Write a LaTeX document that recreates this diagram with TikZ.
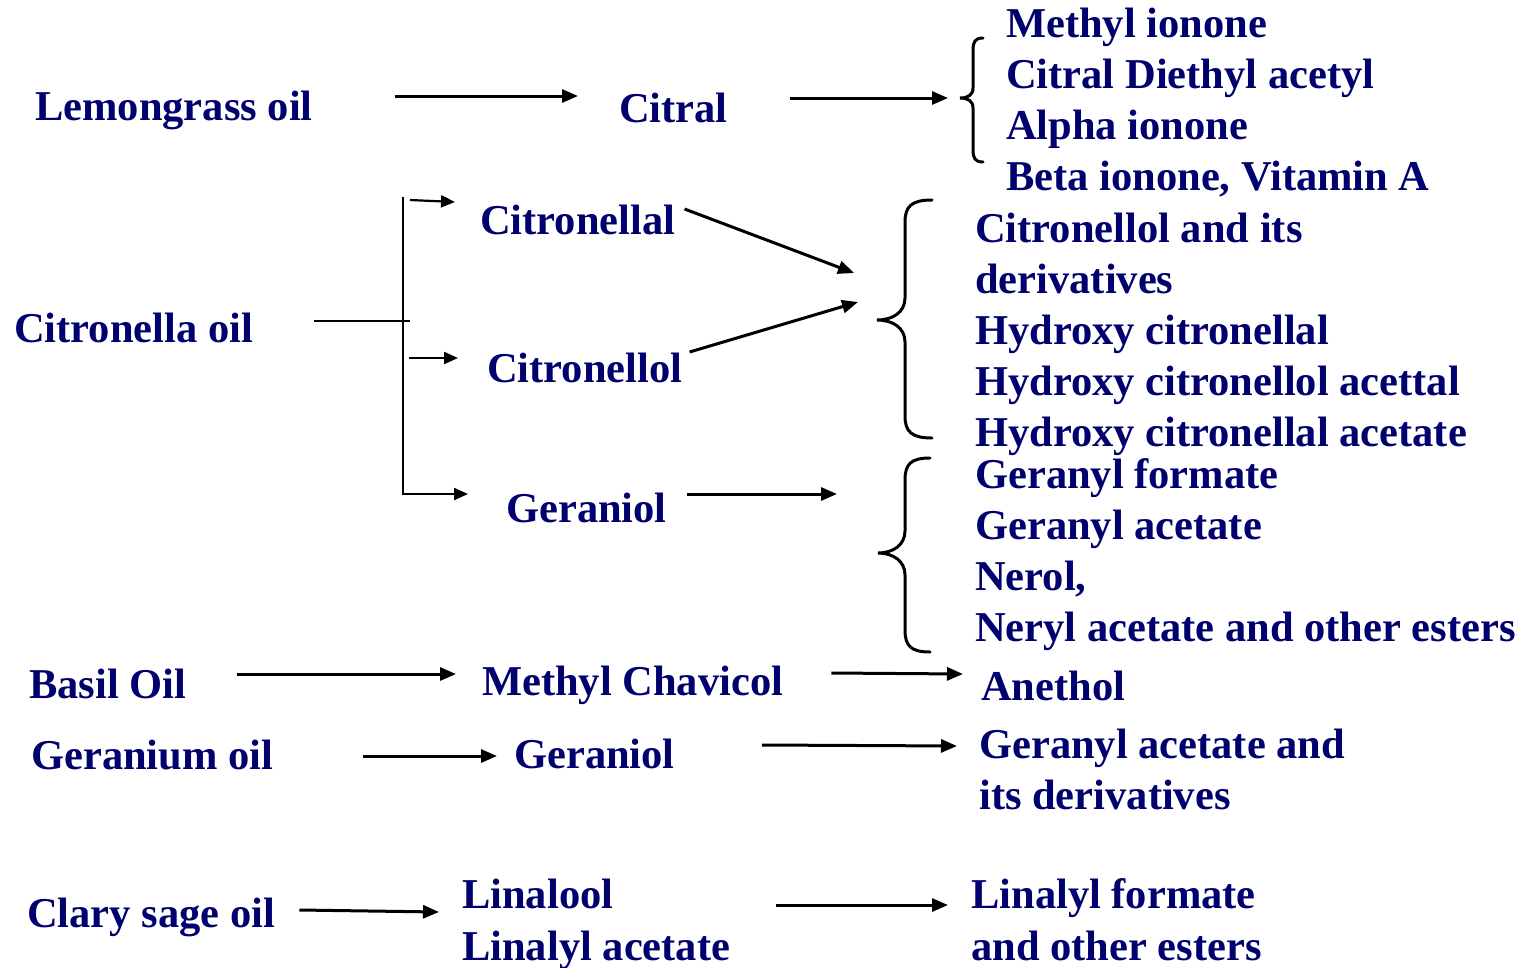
\documentclass[tikz,border=0pt]{standalone}
\usepackage{fontspec}
\setmainfont{Liberation Serif}
\usepackage{xcolor}
\usetikzlibrary{arrows.meta,positioning,calc}
\definecolor{oilblue}{RGB}{0,0,110}
\tikzset{
  txt/.style={inner sep=0pt, anchor=base west, text=oilblue, font=\bfseries\fontsize{42.5}{51.5}\selectfont},
  arr/.style={line width=3pt, -{Triangle[length=16pt,width=13pt]}},
  thinarr/.style={line width=2.2pt, -{Triangle[length=14pt,width=12pt]}},
  bracestyle/.style={line width=3pt, line cap=round},
}

\begin{document}
\begin{tikzpicture}[x=1pt, y=-1pt]
    \useasboundingbox (0,0) rectangle (1526,967);

    % Lemongrass oil
    \node[txt] (lemon) at (35,120) {Lemongrass oil};
    \node[txt] (citral) at (619,122) {Citral};
    \node[txt] (mion) at (1006,37) {Methyl ionone};
    \node[txt] (cdiet) at (1006,88) {Citral Diethyl acetyl};
    \node[txt] (aion) at (1006,139) {Alpha ionone};
    \node[txt] (bion) at (1006,190) {Beta ionone, Vitamin A};

    % Citronella oil
    \node[txt] (citoil) at (14,342) {Citronella oil};
    \node[txt] (cnal) at (480,234) {Citronellal};
    \node[txt] (cnol) at (487,382) {Citronellol};
    \node[txt] (geran) at (506,522) {Geraniol};
    \node[txt] (cder) at (975,242) {Citronellol and its};
    \node[txt] (cderb) at (975,293) {derivatives};
    \node[txt] (hcal) at (975,344) {Hydroxy citronellal};
    \node[txt] (hcol) at (975,395) {Hydroxy citronellol acettal};
    \node[txt] (hcat) at (975,446) {Hydroxy citronellal acetate};
    \node[txt] (gform) at (975,488) {Geranyl formate};
    \node[txt] (gacet) at (975,539) {Geranyl acetate};
    \node[txt] (nerol) at (975,590) {Nerol,};
    \node[txt] (neryl) at (975,641) {Neryl acetate and other esters};

    % Basil, geranium, clary sage
    \node[txt] (basil) at (29,698) {Basil Oil};
    \node[txt] (chav) at (482,695) {Methyl Chavicol};
    \node[txt] (aneth) at (981,700) {Anethol};
    \node[txt] (gerium) at (31,769) {Geranium oil};
    \node[txt] (geranb) at (514,768) {Geraniol};
    \node[txt] (gacetb) at (979,758) {Geranyl acetate and};
    \node[txt] (gderb) at (979,809) {its derivatives};
    \node[txt] (clary) at (27,927) {Clary sage oil};
    \node[txt] (linol) at (462,908) {Linalool};
    \node[txt] (linac) at (462,960) {Linalyl acetate};
    \node[txt] (linfo) at (971,908) {Linalyl formate};
    \node[txt] (linot) at (971,960) {and other esters};

    % Braces
    \draw[bracestyle] (983,38) .. controls (975,38) and (973,42) .. (973,50) -- (973,88)
        .. controls (973,95) and (968,98) .. (960,98) .. controls (968,98) and (973,101) .. (973,108)
        -- (973,150) .. controls (973,158) and (975,162) .. (983,162);
    \coordinate (brA) at (960,98);
    \draw[bracestyle] (932,200) .. controls (912,200) and (905,206) .. (905,222) -- (905,298)
        .. controls (905,312) and (893,320) .. (877,320) .. controls (893,320) and (905,328) .. (905,342)
        -- (905,416) .. controls (905,432) and (912,438) .. (932,438);
    \coordinate (brB) at (877,320);
    \draw[bracestyle] (930,458) .. controls (911,458) and (905,464) .. (905,480) -- (905,531)
        .. controls (905,545) and (893,553) .. (878,553) .. controls (893,553) and (905,561) .. (905,575)
        -- (905,630) .. controls (905,646) and (911,652) .. (930,652);
    \coordinate (brC) at (878,553);

    % Lemongrass arrows
    \draw[arr] ([shift={(82,-24)}]lemon.base east) -- ([shift={(-41,-26)}]citral.base west);
    \draw[arr] ([shift={(62,-24)}]citral.base east) -- ([xshift=-12pt]brA);

    % Citronella fork
    \coordinate (trunkT) at (403,197);
    \draw[line width=1.3pt] ([shift={(61,-21)}]citoil.base east) -- (trunkT |- {(0,321)}) -- ++(7,0);
    \draw[thinarr] ([shift={(7,3)}]trunkT) -- ([shift={(-25,-32)}]cnal.base west);
    \draw[thinarr] ([shift={(-78,-24)}]cnol.base west) -- ([shift={(-29,-24)}]cnol.base west);
    \draw[thinarr] (trunkT) |- ([shift={(-38,-28)}]geran.base west);
    \draw[arr] ([shift={(9,-25)}]cnal.base east) -- ([shift={(-23,-47)}]brB);
    \draw[arr] ([shift={(7,-30)}]cnol.base east) -- ([shift={(-19,-18)}]brB);
    \draw[arr] ([shift={(20,-28)}]geran.base east) -- ([shift={(-41,-59)}]brC);

    % Basil and geranium arrows
    \draw[arr] ([shift={(51,-24)}]basil.base east) -- ([shift={(-26,-21)}]chav.base west);
    \draw[arr] ([shift={(48,-22)}]chav.base east) -- ([shift={(-18,-26)}]aneth.base west);
    \draw[arr] ([shift={(90,-13)}]gerium.base east) -- ([shift={(-17,-12)}]geranb.base west);
    \draw[arr] ([shift={(87,-23)}]geranb.base east) -- ([shift={(-22,-12)}]gacetb.base west);

    % Clary sage arrows
    \draw[arr] ([shift={(24,-17)}]clary.base east) -- ([shift={(-23,4)}]linol.base west);
    \draw[arr] ([shift={(162,-3)}]linol.base east) -- ([shift={(-23,-3)}]linfo.base west);
\end{tikzpicture}
\end{document}
